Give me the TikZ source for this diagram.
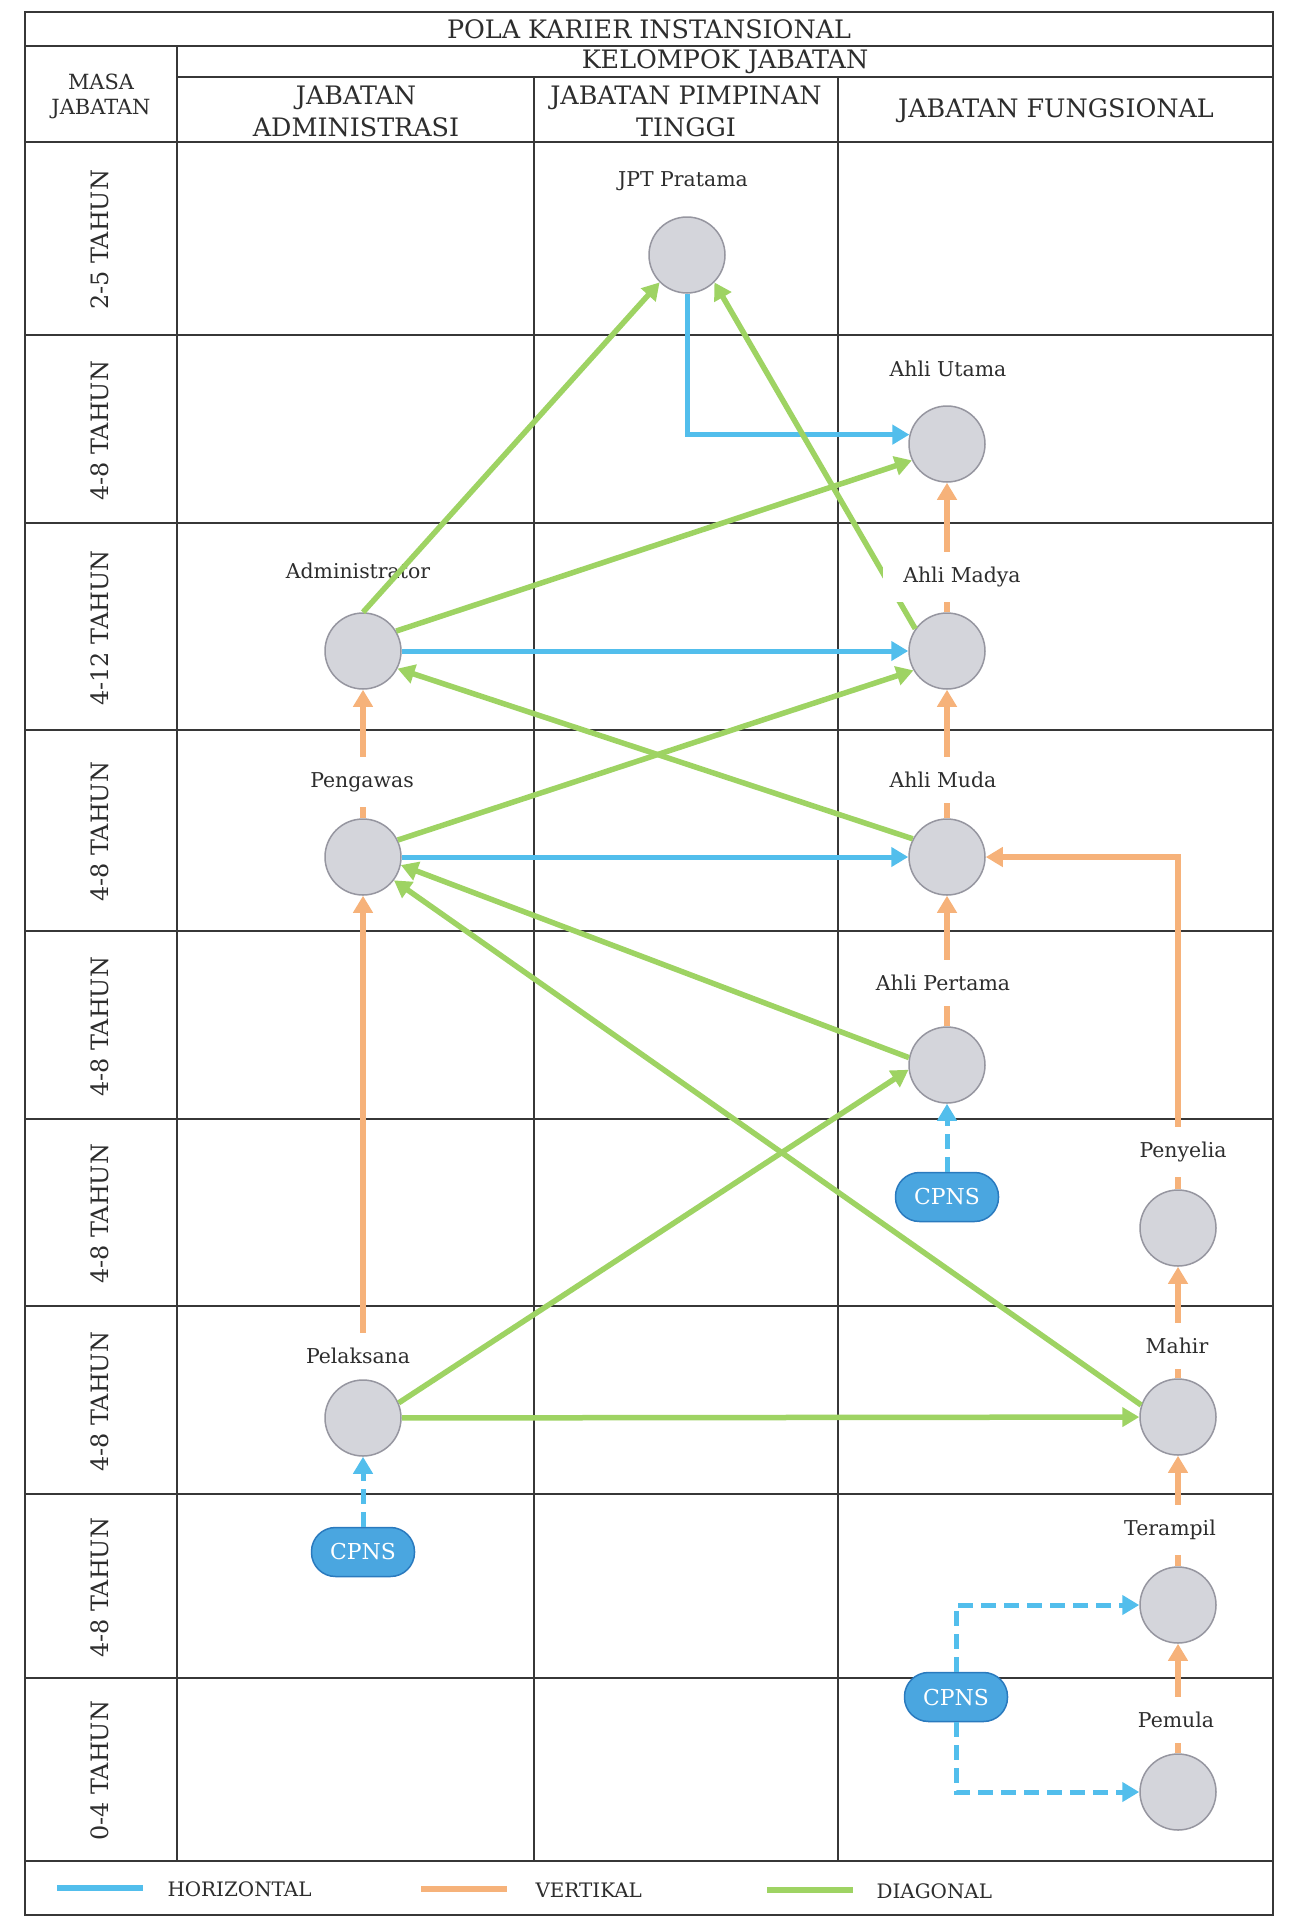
\documentclass[tikz,border=0pt]{standalone}
\usepackage{fontspec}
\setmainfont{DejaVu Serif}
\usetikzlibrary{arrows.meta,calc}
\definecolor{hblue}{RGB}{82,190,236}
\definecolor{vorange}{RGB}{246,178,122}
\definecolor{dgreen}{RGB}{158,211,99}
\definecolor{cpnsfill}{RGB}{74,166,224}
\definecolor{cpnsline}{RGB}{42,122,190}
\definecolor{circfill}{RGB}{212,213,219}
\definecolor{circline}{RGB}{150,150,160}
\definecolor{gridline}{RGB}{55,55,55}
\definecolor{textcol}{RGB}{45,45,45}
\begin{document}
\begin{tikzpicture}[x=1bp,y=-1bp,
 tablegrid/.style={draw=gridline,line width=1.6bp},
 posnode/.style={circle,draw=circline,fill=circfill,line width=1.5bp,minimum size=76bp,inner sep=0pt},
 lbl/.style={fill=white,inner xsep=20bp,inner ysep=15bp,font=\fontsize{20.5}{24}\selectfont,text=textcol},
 cpnsbox/.style={rectangle,rounded corners=24bp,draw=cpnsline,fill=cpnsfill,line width=1.5bp,minimum width=103bp,minimum height=49bp,text=white,font=\fontsize{22}{26}\selectfont},
 horarrow/.style={draw=hblue,line width=5bp,-{Triangle[length=17bp,width=19bp]}},
 hordash/.style={horarrow,dash pattern=on 15bp off 8bp},
 verarrow/.style={draw=vorange,line width=5.5bp,-{Triangle[length=17bp,width=19bp]}},
 diaarrow/.style={draw=dgreen,line width=5.5bp,-{Triangle[length=17bp,width=19bp]}},
 hdr/.style={font=\fontsize{25.5}{32}\selectfont,text=textcol,align=center},
 rowlbl/.style={font=\fontsize{24}{28}\selectfont,text=textcol,rotate=90},
 legtext/.style={font=\fontsize{20}{24}\selectfont,text=textcol,anchor=west},
 legline/.style={line width=6bp}
]
\useasboundingbox (0,0) rectangle (1291,1922);
% table
\draw[tablegrid] (25,12) rectangle (1273,1915);
\draw[tablegrid] (25,46) -- (1273,46);
\draw[tablegrid] (177,77) -- (1273,77);
\draw[tablegrid] (25,142) -- (1273,142);
\foreach \yy in {335,523,730,931,1119,1306,1494,1678,1861}
  \draw[tablegrid] (25,\yy) -- (1273,\yy);
\draw[tablegrid] (177,46) -- (177,1861);
\draw[tablegrid] (534,77) -- (534,1861);
\draw[tablegrid] (838,77) -- (838,1861);
% headers
\node[hdr] (title) at (649,29) {POLA KARIER INSTANSIONAL};
\node[hdr] (kel) at (725,61.5) {KELOMPOK JABATAN};
\node[hdr] (hadm) at (356,111) {JABATAN\\ADMINISTRASI};
\node[hdr] (hjpt) at (686,111) {JABATAN PIMPINAN\\TINGGI};
\node[hdr] (hfung) at (1056,111) {JABATAN FUNGSIONAL};
\node[font=\fontsize{21}{25}\selectfont,text=textcol,align=center] (masa) at (101,96) {MASA\\JABATAN};
% row labels
\node[rowlbl] (r1) at (100,240) {2-5 TAHUN};
\node[rowlbl] (r2) at (100,431) {4-8 TAHUN};
\node[rowlbl] (r3) at (100,628) {4-12 TAHUN};
\node[rowlbl] (r4) at (100,832) {4-8 TAHUN};
\node[rowlbl] (r5) at (100,1027) {4-8 TAHUN};
\node[rowlbl] (r6) at (100,1214) {4-8 TAHUN};
\node[rowlbl] (r7) at (100,1402) {4-8 TAHUN};
\node[rowlbl] (r8) at (100,1588) {4-8 TAHUN};
\node[rowlbl] (r9) at (100,1771) {0-4 TAHUN};
% positions
\node[posnode] (jpt) at (687,255) {};
\node[posnode] (utama) at (947,444) {};
\node[posnode] (admin) at (363,651) {};
\node[posnode] (madya) at (947,651) {};
\node[posnode] (pengawas) at (363,857) {};
\node[posnode] (muda) at (947,857) {};
\node[posnode] (pertama) at (947,1065) {};
\node[posnode] (penyelia) at (1178,1228) {};
\node[posnode] (mahir) at (1178,1417) {};
\node[posnode] (pelaksana) at (363,1418) {};
\node[posnode] (terampil) at (1178,1605) {};
\node[posnode] (pemula) at (1178,1792) {};
\node[cpnsbox] (cpnsA) at (947,1197) {CPNS};
\node[cpnsbox] (cpnsB) at (363,1552) {CPNS};
\node[cpnsbox] (cpnsC) at (956,1697) {CPNS};
\node[lbl,fill=none] (lAdmin) at (358,571) {Administrator};
% horizontal
\draw[horarrow] (jpt.south) |- (utama.166);
\draw[horarrow] (admin) -- (madya);
\draw[horarrow] (pengawas) -- (muda);
\draw[hordash] (cpnsA) -- (pertama);
\draw[hordash] (cpnsB) -- (pelaksana);
\draw[hordash] (cpnsC.north) |- (terampil.west);
\draw[hordash] (cpnsC.south) |- (pemula.west);
% vertical
\draw[verarrow] (madya) -- (utama);
\draw[verarrow] (muda) -- (madya);
\draw[verarrow] (pertama) -- (muda);
\draw[verarrow] (pengawas) -- (admin);
\draw[verarrow] (pelaksana) -- (pengawas);
\draw[verarrow] (penyelia.north) |- (muda.east);
\draw[verarrow] (mahir) -- (penyelia);
\draw[verarrow] (terampil) -- (mahir);
\draw[verarrow] (pemula) -- (terampil);
% diagonal
\draw[diaarrow] (admin.90) -- (jpt.225);
\draw[diaarrow] (admin.31) -- (utama.205);
\draw[diaarrow] (madya.145) -- (jpt.315);
\draw[diaarrow] (muda.152) -- (admin.333);
\draw[diaarrow] (pengawas.26) -- (madya.210);
\draw[diaarrow] (pertama.169) -- (pengawas.348);
\draw[diaarrow] (mahir.162) -- (pengawas.323);
\draw[diaarrow] (pelaksana.23) -- (pertama.187);
\draw[diaarrow] (pelaksana) -- (mahir);
% labels
\node[lbl] (lJpt) at (683,181) {JPT Pratama};
\node[lbl] (lUtama) at (948,369) {Ahli Utama};
\node[lbl] (lMadya) at (962,577) {Ahli Madya};
\node[lbl] (lPengawas) at (362,782) {Pengawas};
\node[lbl] (lMuda) at (943,780) {Ahli Muda};
\node[lbl] (lPertama) at (943,983) {Ahli Pertama};
\node[lbl] (lPenyelia) at (1183,1152) {Penyelia};
\node[lbl] (lMahir) at (1177,1346) {Mahir};
\node[lbl] (lPelaksana) at (358,1356) {Pelaksana};
\node[lbl] (lTerampil) at (1170,1530) {Terampil};
\node[lbl] (lPemula) at (1176,1720) {Pemula};
% legend
\draw[legline,draw=hblue] (57,1888) -- (143,1888);
\node[legtext] (legH) at (164,1889) {HORIZONTAL};
\draw[legline,draw=vorange] (421,1889) -- (507,1889);
\node[legtext] (legV) at (532,1890) {VERTIKAL};
\draw[legline,draw=dgreen] (767,1890) -- (853,1890);
\node[legtext] (legD) at (873,1891) {DIAGONAL};
\end{tikzpicture}
\end{document}
